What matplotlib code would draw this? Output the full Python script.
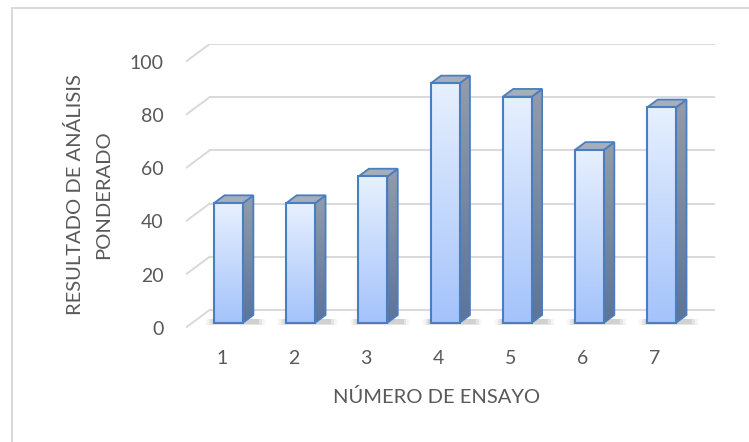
import numpy as np
import matplotlib
matplotlib.use("Agg")
import matplotlib.pyplot as plt
from matplotlib.patches import Polygon
from matplotlib.lines import Line2D
from matplotlib.colors import LinearSegmentedColormap

# ---- data ----
categories = ['1', '2', '3', '4', '5', '6', '7']
values = [45, 45, 55, 90, 85, 65, 81]
yticks = [0, 20, 40, 60, 80, 100]
xlabel = 'NÚMERO DE ENSAYO'
ylabel = 'RESULTADO DE ANÁLISIS\nPONDERADO'

plt.rcParams['font.family'] = ['Lato', 'DejaVu Sans']
TXT = '#595959'
GRID = '#d9d9d9'
EDGE = '#4a7ebf'

W, H = 749, 442
fig = plt.figure(figsize=(W / 100, H / 100), dpi=100)

# axes = front plane + depth (pixel layout)
L, R, B, T = 185.7, 715, 327.7, 44
ax = fig.add_axes([L / W, 1 - B / H, (R - L) / W, (B - T) / H])

n = len(values)
DX = 0.332     # floor depth along x (category units)
DY = 6.68      # floor depth along y (value units)
f0 = 0.28      # bar front offset (fraction of depth)
fb = 0.435     # bar depth (fraction)
bw = 0.40      # bar width

xmin, xmax = -0.5, n - 0.5
ymax = yticks[-1]

# gridlines: back wall + left wall diagonals
for t in yticks:
    ax.add_line(Line2D([xmin + DX, xmax + DX], [t + DY, t + DY], color=GRID, lw=1.4, zorder=1))
    ax.add_line(Line2D([xmin, xmin + DX], [t, t + DY], color=GRID, lw=1.4, zorder=1))

grad = np.linspace(0, 1, 256).reshape(-1, 1)
cm_front = LinearSegmentedColormap.from_list('f', ['#a4c3fb', '#e7f0fe'])
cm_side = LinearSegmentedColormap.from_list('s', ['#5d7399', '#939cab'])

ox, oy = f0 * DX, f0 * DY
ddx, ddy = fb * DX, fb * DY
for i, v in enumerate(values):
    xl = i - bw / 2 + ox
    xr = i + bw / 2 + ox
    y0 = oy
    yt = v + oy
    # soft shadow on the floor, mostly to the right of the base
    for k, a in enumerate([0.05, 0.08, 0.10]):
        e = 0.04 * (2 - k)
        sh = Polygon([(xl - 0.03 - e, y0 - 0.6 - 2 * e),
                      (xr + ddx + 0.08 + e, y0 - 0.6 - 2 * e),
                      (xr + ddx + 0.08 + e, y0 + ddy * 0.5),
                      (xl - 0.03 - e, y0 + ddy * 0.5)],
                     closed=True, facecolor='#303030', alpha=a, lw=0, zorder=2)
        ax.add_patch(sh)
    # side face
    side = Polygon([(xr, y0), (xr + ddx, y0 + ddy), (xr + ddx, yt + ddy), (xr, yt)],
                   closed=True, facecolor='none', edgecolor=EDGE, lw=1.3, zorder=4)
    ax.add_patch(side)
    im = ax.imshow(grad, cmap=cm_side, origin='lower', aspect='auto',
                   extent=[xr, xr + ddx, y0, yt + ddy], zorder=3)
    im.set_clip_path(side)
    # top face
    top = Polygon([(xl, yt), (xl + ddx, yt + ddy), (xr + ddx, yt + ddy), (xr, yt)],
                  closed=True, facecolor='#a7aebb', edgecolor=EDGE, lw=1.3, zorder=4)
    ax.add_patch(top)
    # front face
    front = Polygon([(xl, y0), (xr, y0), (xr, yt), (xl, yt)], closed=True,
                    facecolor='none', edgecolor=EDGE, lw=1.5, zorder=6)
    ax.add_patch(front)
    im2 = ax.imshow(grad, cmap=cm_front, origin='lower', aspect='auto',
                    extent=[xl, xr, y0, yt], zorder=5)
    im2.set_clip_path(front)

ax.set_xlim(xmin, xmax + DX)
ax.set_ylim(0, ymax + DY)
ax.set_xticks(range(n))
ax.set_xticklabels(categories)
ax.set_yticks(yticks)
ax.tick_params(axis='both', length=0, labelsize=14, labelcolor=TXT)
ax.tick_params(axis='y', pad=16)
ax.tick_params(axis='x', pad=16)
for s in ax.spines.values():
    s.set_visible(False)
ax.patch.set_visible(False)

fig.text(437 / W, 1 - 397 / H, xlabel, ha='center', va='center', fontsize=14.5, color=TXT)
fig.text(89 / W, 1 - 195 / H, ylabel, ha='center', va='center', rotation=90,
         fontsize=14.5, color=TXT, multialignment='center', linespacing=1.75)

# outer chart border (top and left visible)
fig.add_artist(Line2D([12 / W, 1], [1 - 8 / H, 1 - 8 / H], color=GRID, lw=1.4))
fig.add_artist(Line2D([12 / W, 12 / W], [0, 1 - 8 / H], color=GRID, lw=1.4))

fig.savefig('out.png', dpi=100)
